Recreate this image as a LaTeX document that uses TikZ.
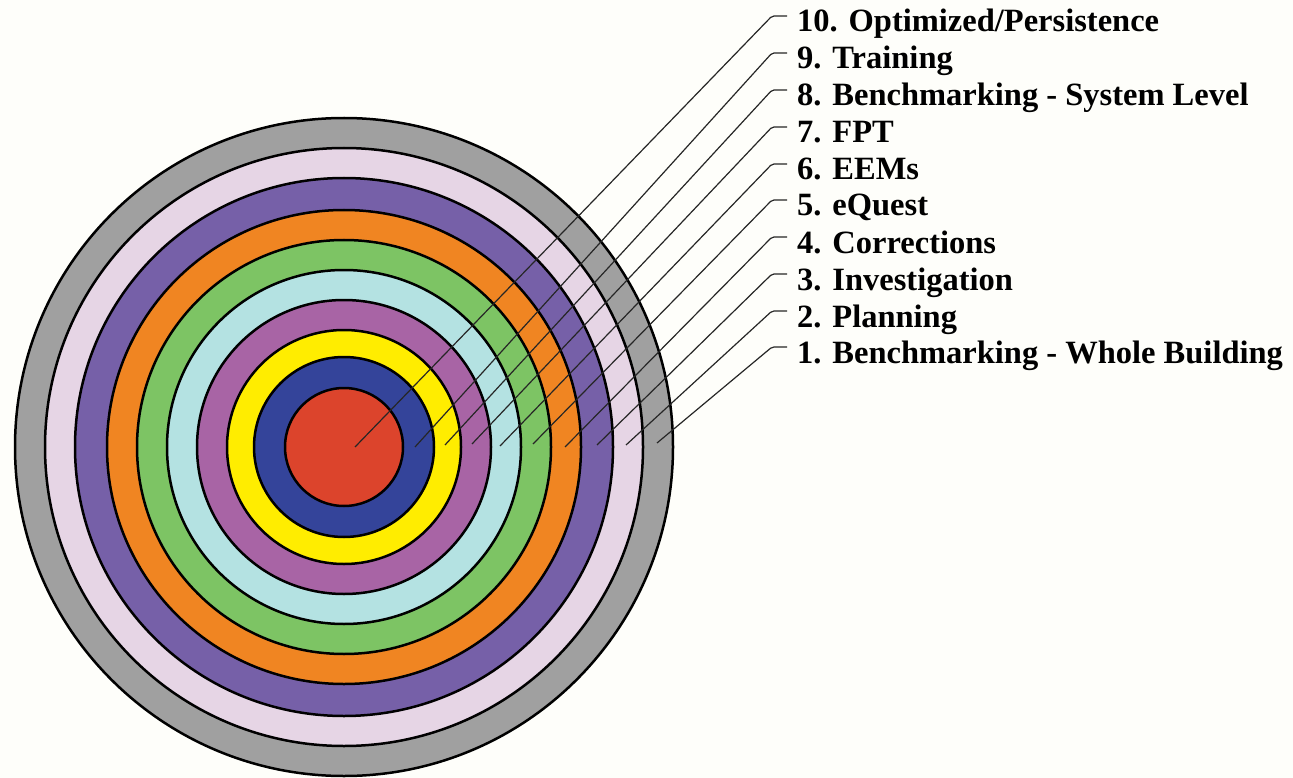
\documentclass[tikz,border=0pt]{standalone}
\usepackage{fontspec}
\setmainfont{Liberation Serif}
\definecolor{bgc}{RGB}{254,254,250}
\definecolor{cgray}{RGB}{160,160,160}
\definecolor{cpink}{RGB}{230,213,229}
\definecolor{cpurple}{RGB}{118,96,168}
\definecolor{corange}{RGB}{240,133,34}
\definecolor{cgreen}{RGB}{125,196,100}
\definecolor{ccyan}{RGB}{180,226,226}
\definecolor{cviolet}{RGB}{168,100,165}
\definecolor{cyellow}{RGB}{255,237,0}
\definecolor{cblue}{RGB}{52,68,154}
\definecolor{cred}{RGB}{220,68,44}
\begin{document}
\begin{tikzpicture}[x=1pt,y=-1pt,
  ring/.style={draw=black,line width=2.5pt},
  leader/.style={draw=black!85,line width=1.2pt,rounded corners=2pt},
  lab/.style={anchor=base west,inner sep=0pt,font=\fontsize{32.5}{36}\selectfont\bfseries}]
\fill[bgc] (0,0) rectangle (1293,778);
\useasboundingbox (0,0) rectangle (1293,778);
\coordinate (c) at (344,447);
\foreach \r/\col in {329/cgray,299/cpink,269/cpurple,237/corange,207/cgreen,177/ccyan,147/cviolet,117/cyellow,90/cblue,59/cred}{
  \fill[\col] (c) circle (\r);
  \draw[ring] (c) circle (\r);
}
% labels
\node[lab] (l10) at (797,32) {10. Optimized/Persistence};
\node[lab] (l9) at (797,69) {9. Training};
\node[lab] (l8) at (797,106) {8. Benchmarking - System Level};
\node[lab] (l7) at (797,143) {7. FPT};
\node[lab] (l6) at (797,180) {6. EEMs};
\node[lab] (l5) at (797,216) {5. eQuest};
\node[lab] (l4) at (797,253) {4. Corrections};
\node[lab] (l3) at (797,290) {3. Investigation};
\node[lab] (l2) at (797,327) {2. Planning};
\node[lab] (l1) at (797,363) {1. Benchmarking - Whole Building};
% leaders
\foreach \i/\ex/\ey/\sy in {10/355/447/16,9/415/447/53,8/445/445/90,7/472/444/127,6/500/446/164,5/533/444/200,4/565/447/237,3/597/445/274,2/626/445/311,1/657/443/347}{
  \coordinate (e\i) at (\ex,\ey);
  \coordinate (k\i) at (772,\sy);
  \coordinate (s\i) at (787,\sy);
  \draw[leader] (e\i) -- (k\i) -- (s\i);
}
\end{tikzpicture}
\end{document}
